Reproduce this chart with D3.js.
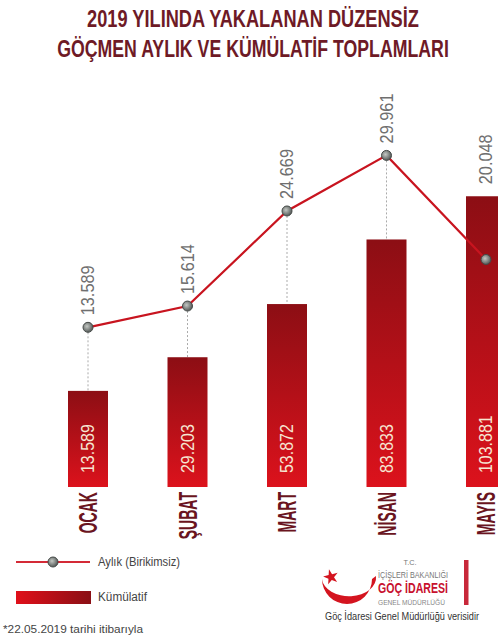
<!DOCTYPE html>
<html>
<head>
<meta charset="utf-8">
<script src="https://cdn.jsdelivr.net/npm/d3@7"></script>
<style>
  html, body { margin: 0; padding: 0; background: #fff; }
  svg { display: block; }
  text { font-family: "Liberation Sans", Arial, sans-serif; }
</style>
</head>
<body>
<script>
// ---- data ----
const months = ["OCAK", "ŞUBAT", "MART", "NİSAN", "MAYIS"];
const monthly = [13589, 15614, 24669, 29961, 20048];
const cumulative = [13589, 29203, 53872, 83833, 103881];
const titleLines = ["2019 YILINDA YAKALANAN DÜZENSİZ", "GÖÇMEN AYLIK VE KÜMÜLATİF TOPLAMLARI"];
const legendLabels = ["Aylık (Birikimsiz)", "Kümülatif"];
const footnote = "*22.05.2019 tarihi itibarıyla";
const logoLines = ["T.C.", "İÇİŞLERİ BAKANLIĞI", "GÖÇ İDARESİ", "GENEL MÜDÜRLÜĞÜ"];
const sourceText = "Göç İdaresi Genel Müdürlüğü verisidir";

const W = 498, H = 640;
const fmt = d3.formatLocale({decimal: ",", thousands: ".", grouping: [3], currency: ["", ""]}).format(",d");

const svg = d3.select("body").append("svg").attr("width", W).attr("height", H);
const defs = svg.append("defs");

const barGrad = defs.append("linearGradient").attr("id", "barGrad").attr("x1", 0).attr("y1", 0).attr("x2", 0).attr("y2", 1);
barGrad.append("stop").attr("offset", "0%").attr("stop-color", "#8c0e14");
barGrad.append("stop").attr("offset", "100%").attr("stop-color", "#dc121c");

const legGrad = defs.append("linearGradient").attr("id", "legGrad").attr("x1", 0).attr("y1", 0).attr("x2", 1).attr("y2", 0);
legGrad.append("stop").attr("offset", "0%").attr("stop-color", "#e0101a");
legGrad.append("stop").attr("offset", "100%").attr("stop-color", "#8a0f15");

const dotGrad = defs.append("radialGradient").attr("id", "dotGrad").attr("cx", "40%").attr("cy", "40%").attr("r", "60%");
dotGrad.append("stop").attr("offset", "0%").attr("stop-color", "#c4c8c4");
dotGrad.append("stop").attr("offset", "100%").attr("stop-color", "#555a58");

// ---- title (condensed by horizontal scaling to the target widths) ----
const titleWidths = [332, 392];
svg.append("g").selectAll("g").data(titleLines).join("g")
  .each(function(d, i) {
    const g = d3.select(this);
    const t = g.append("text")
      .attr("text-anchor", "middle")
      .attr("font-size", 24)
      .attr("font-weight", "bold")
      .attr("fill", "#6e1a26")
      .text(d);
    const natural = t.node().getComputedTextLength();
    g.attr("transform", `translate(253,${27 + i * 30}) scale(${titleWidths[i] / natural},1)`);
  });

// ---- scales ----
const x = d3.scalePoint().domain(months).range([88, 486]);
const barW = 40;
const baseY = 487;
const yBar = d3.scaleLinear().domain([-31000, 104000]).range([baseY, 196]);
const yLine = d3.scaleLinear().domain([0, 30000]).range([470, 155]);

const rows = months.map((m, i) => ({m, monthly: monthly[i], cum: cumulative[i]}));

// dotted connectors
svg.append("g").selectAll("line").data(rows).join("line")
  .attr("x1", d => x(d.m)).attr("x2", d => x(d.m))
  .attr("y1", d => yLine(d.monthly) + 5)
  .attr("y2", d => yBar(d.cum))
  .attr("stroke", "#aaaaaa").attr("stroke-width", 1).attr("stroke-dasharray", "2,2")
  .attr("display", d => yLine(d.monthly) + 5 < yBar(d.cum) ? null : "none");

// bars
svg.append("g").selectAll("rect").data(rows).join("rect")
  .attr("x", d => x(d.m) - barW / 2)
  .attr("y", d => yBar(d.cum))
  .attr("width", barW)
  .attr("height", d => baseY - yBar(d.cum))
  .attr("fill", "url(#barGrad)");

// bar value labels (rotated)
svg.append("g").selectAll("g").data(rows).join("g")
  .attr("transform", d => `translate(${x(d.m)},${baseY - 14}) rotate(-90)`)
  .append("text")
  .attr("transform", "scale(0.84,1)")
  .attr("dominant-baseline", "central")
  .attr("font-size", 19)
  .attr("fill", "#f6e6d2")
  .text(d => fmt(d.cum));

// month labels
svg.append("g").selectAll("g").data(rows).join("g")
  .attr("transform", d => `translate(${x(d.m)},${baseY + 5}) rotate(-90)`)
  .append("text")
  .attr("transform", "scale(0.54,1)")
  .attr("text-anchor", "end")
  .attr("dominant-baseline", "central")
  .attr("font-size", 26)
  .attr("font-weight", "bold")
  .attr("fill", "#6a1420")
  .text(d => d.m);

// line
const line = d3.line().x(d => x(d.m)).y(d => yLine(d.monthly));
svg.append("path").datum(rows)
  .attr("d", line)
  .attr("fill", "none")
  .attr("stroke", "#c8141f")
  .attr("stroke-width", 2.2);

svg.append("g").selectAll("circle").data(rows).join("circle")
  .attr("cx", d => x(d.m)).attr("cy", d => yLine(d.monthly)).attr("r", 5)
  .attr("fill", "url(#dotGrad)").attr("stroke", "#454a48").attr("stroke-width", 1);

// monthly value labels
svg.append("g").selectAll("g").data(rows).join("g")
  .attr("transform", d => `translate(${x(d.m)},${Math.min(yLine(d.monthly), yBar(d.cum)) - 12}) rotate(-90)`)
  .append("text")
  .attr("transform", "scale(0.86,1)")
  .attr("dominant-baseline", "central")
  .attr("font-size", 19)
  .attr("fill", "#6f6f6f")
  .text(d => fmt(d.monthly));

// ---- legend ----
const leg = svg.append("g");
leg.append("line").attr("x1", 16).attr("x2", 90).attr("y1", 562).attr("y2", 562)
  .attr("stroke", "#d42a36").attr("stroke-width", 2);
leg.append("circle").attr("cx", 53).attr("cy", 562).attr("r", 5)
  .attr("fill", "url(#dotGrad)").attr("stroke", "#454a48").attr("stroke-width", 1);
leg.append("rect").attr("x", 16).attr("y", 591).attr("width", 75).attr("height", 13)
  .attr("fill", "url(#legGrad)");
leg.selectAll("text.lg").data(legendLabels).join("text").attr("class", "lg")
  .attr("x", 98).attr("y", (d, i) => 566 + i * 35)
  .attr("font-size", 12).attr("fill", "#444")
  .attr("textLength", (d, i) => i === 0 ? 82 : 49)
  .attr("lengthAdjust", "spacingAndGlyphs")
  .text(d => d);
svg.append("text").attr("x", 3).attr("y", 633)
  .attr("font-size", 11.5).attr("fill", "#444")
  .attr("textLength", 140).attr("lengthAdjust", "spacingAndGlyphs")
  .text(footnote);

// ---- logo ----
const logo = svg.append("g");
logo.append("path")
  .attr("d", "M322,579 A25,25 0 0 0 372,579 L376,576 A26,18 0 0 1 322,579 Z")
  .attr("fill", "#d4141f");
logo.append("path")
  .attr("d", d3.symbol(d3.symbolStar, 70)())
  .attr("transform", "translate(331,577) rotate(-15)")
  .attr("fill", "#d4141f");
const logoSpec = [
  {x: 410, y: 565, size: 8, w: 13, fill: "#777", weight: "normal", anchor: "middle"},
  {x: 378, y: 578, size: 9, w: 70, fill: "#777", weight: "normal", anchor: "start"},
  {x: 378, y: 593, size: 14, w: 70, fill: "#c8102e", weight: "bold", anchor: "start"},
  {x: 378, y: 605, size: 8, w: 67, fill: "#888", weight: "normal", anchor: "start"}
];
logo.selectAll("text.logo").data(logoLines).join("text").attr("class", "logo")
  .attr("x", (d, i) => logoSpec[i].x).attr("y", (d, i) => logoSpec[i].y)
  .attr("font-size", (d, i) => logoSpec[i].size)
  .attr("font-weight", (d, i) => logoSpec[i].weight)
  .attr("fill", (d, i) => logoSpec[i].fill)
  .attr("text-anchor", (d, i) => logoSpec[i].anchor)
  .attr("textLength", (d, i) => logoSpec[i].w)
  .attr("lengthAdjust", "spacingAndGlyphs")
  .text(d => d);
logo.append("rect").attr("x", 464).attr("y", 560).attr("width", 4.5).attr("height", 45).attr("fill", "#c8283a");
logo.append("text").attr("x", 325).attr("y", 620)
  .attr("font-size", 10).attr("fill", "#333")
  .attr("textLength", 154).attr("lengthAdjust", "spacingAndGlyphs")
  .text(sourceText);
</script>
</body>
</html>
